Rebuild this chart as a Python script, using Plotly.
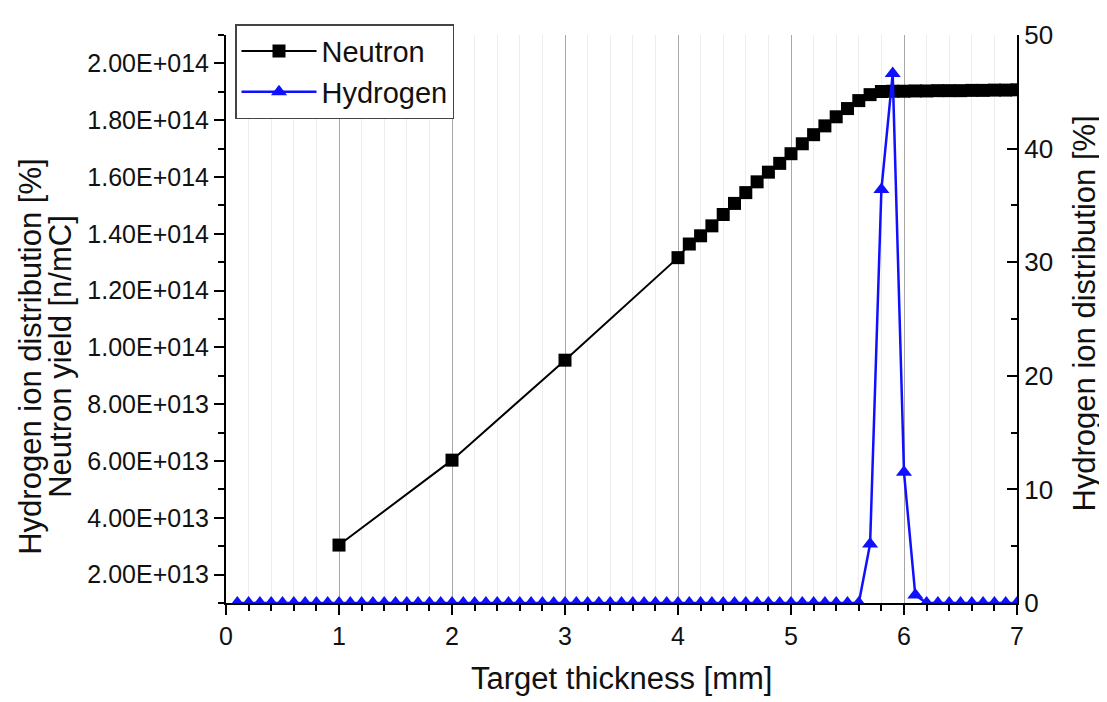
import numpy as np
import plotly.graph_objects as go

# ---------------- data ----------------
neutron_x = [1.0, 2.0, 3.0, 4.0, 4.1, 4.2, 4.3, 4.4, 4.5, 4.6, 4.7, 4.8, 4.9,
             5.0, 5.1, 5.2, 5.3, 5.4, 5.5, 5.6, 5.7, 5.8, 5.9,
             6.0, 6.1, 6.2, 6.3, 6.4, 6.5, 6.6, 6.7, 6.8, 6.9, 7.0]
neutron_y = [3.04e13, 6.03e13, 9.55e13, 1.316e14, 1.364e14, 1.393e14, 1.428e14,
             1.468e14, 1.507e14, 1.545e14, 1.583e14, 1.617e14, 1.648e14,
             1.682e14, 1.717e14, 1.749e14, 1.780e14, 1.812e14, 1.841e14,
             1.869e14, 1.890e14, 1.901e14, 1.902e14,
             1.902e14, 1.903e14, 1.903e14, 1.904e14, 1.904e14, 1.904e14,
             1.905e14, 1.905e14, 1.906e14, 1.906e14, 1.907e14]

hydrogen_x = [0.1, 0.2, 0.3, 0.4, 0.5, 0.6, 0.7, 0.8, 0.9, 1.0,
              1.1, 1.2, 1.3, 1.4, 1.5, 1.6, 1.7, 1.8, 1.9, 2.0,
              2.1, 2.2, 2.3, 2.4, 2.5, 2.6, 2.7, 2.8, 2.9, 3.0,
              3.1, 3.2, 3.3, 3.4, 3.5, 3.6, 3.7, 3.8, 3.9, 4.0,
              4.1, 4.2, 4.3, 4.4, 4.5, 4.6, 4.7, 4.8, 4.9, 5.0,
              5.1, 5.2, 5.3, 5.4, 5.5, 5.6, 5.7, 5.8, 5.9, 6.0,
              6.1, 6.2, 6.3, 6.4, 6.5, 6.6, 6.7, 6.8, 6.9, 7.0]
hydrogen_y = [0, 0, 0, 0, 0, 0, 0, 0, 0, 0,
              0, 0, 0, 0, 0, 0, 0, 0, 0, 0,
              0, 0, 0, 0, 0, 0, 0, 0, 0, 0,
              0, 0, 0, 0, 0, 0, 0, 0, 0, 0,
              0, 0, 0, 0, 0, 0, 0, 0, 0, 0,
              0, 0, 0, 0, 0, 0, 5.2, 36.4, 46.6, 11.5,
              0.7, 0, 0, 0, 0, 0, 0, 0, 0, 0]

left_tick_vals = [2e13, 4e13, 6e13, 8e13, 1e14, 1.2e14, 1.4e14, 1.6e14, 1.8e14, 2e14]
left_tick_text = ["2.00E+013", "4.00E+013", "6.00E+013", "8.00E+013", "1.00E+014",
                  "1.20E+014", "1.40E+014", "1.60E+014", "1.80E+014", "2.00E+014"]

x_title = "Target thickness [mm]"
left_title_1 = "Hydrogen ion distribution [%]"
left_title_2 = "Neutron yield [n/mC]"
right_title = "Hydrogen ion distribution [%]"

# ---------------- figure ----------------
FONT = "Liberation Sans, Arial, sans-serif"
OFF = 8                      # page body margin of the html page
W, H = 1107 - OFF, 702 - OFF
ML, MT = 226 - OFF, 24 - OFF
MR = W - (1017 - OFF)
MB = H - (603 - OFF)
PW, PH = W - ML - MR, H - MT - MB

fig = go.Figure()
fig.add_trace(go.Scatter(
    x=neutron_x, y=neutron_y, name="Neutron", mode="lines+markers",
    line=dict(color="black", width=2),
    marker=dict(symbol="square", size=13, color="black"),
    yaxis="y"))
fig.add_trace(go.Scatter(
    x=hydrogen_x, y=hydrogen_y, name="Hydrogen", mode="lines+markers",
    line=dict(color="#1010ff", width=2.5),
    marker=dict(symbol="triangle-up", size=14, color="#1010ff"),
    yaxis="y2"))

minor_left = list(np.arange(1e13, 2.11e14, 1e13))

fig.update_layout(
    width=W, height=H, autosize=False,
    margin=dict(l=ML, r=MR, t=MT, b=MB, pad=0),
    paper_bgcolor="white", plot_bgcolor="white",
    font=dict(family=FONT, color="#111111", size=25),
    showlegend=True,
    legend=dict(x=9 / PW, y=1.0 + 11 / PH, xanchor="left", yanchor="top",
                bgcolor="white", bordercolor="#444444", borderwidth=1.5,
                font=dict(size=29, family=FONT, color="#111111"),
                itemwidth=75, tracegroupgap=0),
    xaxis=dict(range=[0, 7], tick0=0, dtick=1,
               showline=True, linecolor="black", linewidth=2,
               ticks="outside", ticklen=10, tickwidth=2, tickcolor="black",
               showgrid=True, gridcolor="#a8a8a8", gridwidth=1,
               zeroline=False, tickfont=dict(size=25),
               minor=dict(dtick=0.2, tick0=0, ticks="outside", ticklen=6,
                          tickwidth=1.5, tickcolor="black",
                          showgrid=True, gridcolor="#ededed", gridwidth=1)),
    yaxis=dict(range=[1e13, 2.1e14], tickmode="array",
               tickvals=left_tick_vals, ticktext=left_tick_text,
               showline=True, linecolor="black", linewidth=2,
               ticks="outside", ticklen=10, tickwidth=2, tickcolor="black",
               showgrid=False, zeroline=False, tickfont=dict(size=25),
               minor=dict(tickmode="array", tickvals=minor_left,
                          ticks="outside", ticklen=6, tickwidth=1.5,
                          tickcolor="black", showgrid=False)),
    yaxis2=dict(range=[0, 50], tick0=0, dtick=10, overlaying="y", side="right",
                showline=True, linecolor="black", linewidth=2,
                ticks="inside", ticklen=10, tickwidth=2, tickcolor="black",
                showgrid=False, zeroline=False, tickfont=dict(size=26),
                minor=dict(dtick=5, tick0=0, ticks="inside", ticklen=6,
                           tickwidth=1.5, tickcolor="black", showgrid=False)),
)

# helpers: window pixel -> paper coordinate
def px_x(p):
    return (p - OFF - ML) / PW

def px_y(p):
    return (MT + PH - (p - OFF)) / PH

annos = [
    dict(text=x_title, x=px_x(621), y=px_y(680), textangle=0),
    dict(text=left_title_1, x=px_x(31), y=px_y(352), textangle=-90),
    dict(text=left_title_2, x=px_x(61), y=px_y(352), textangle=-90),
    dict(text=right_title, x=px_x(1085), y=px_y(308), textangle=-90),
]
for a in annos:
    fig.add_annotation(xref="paper", yref="paper", showarrow=False,
                       xanchor="center", yanchor="middle",
                       font=dict(family=FONT, color="#111111", size=31),
                       **a)

fig.write_html("out.html")
